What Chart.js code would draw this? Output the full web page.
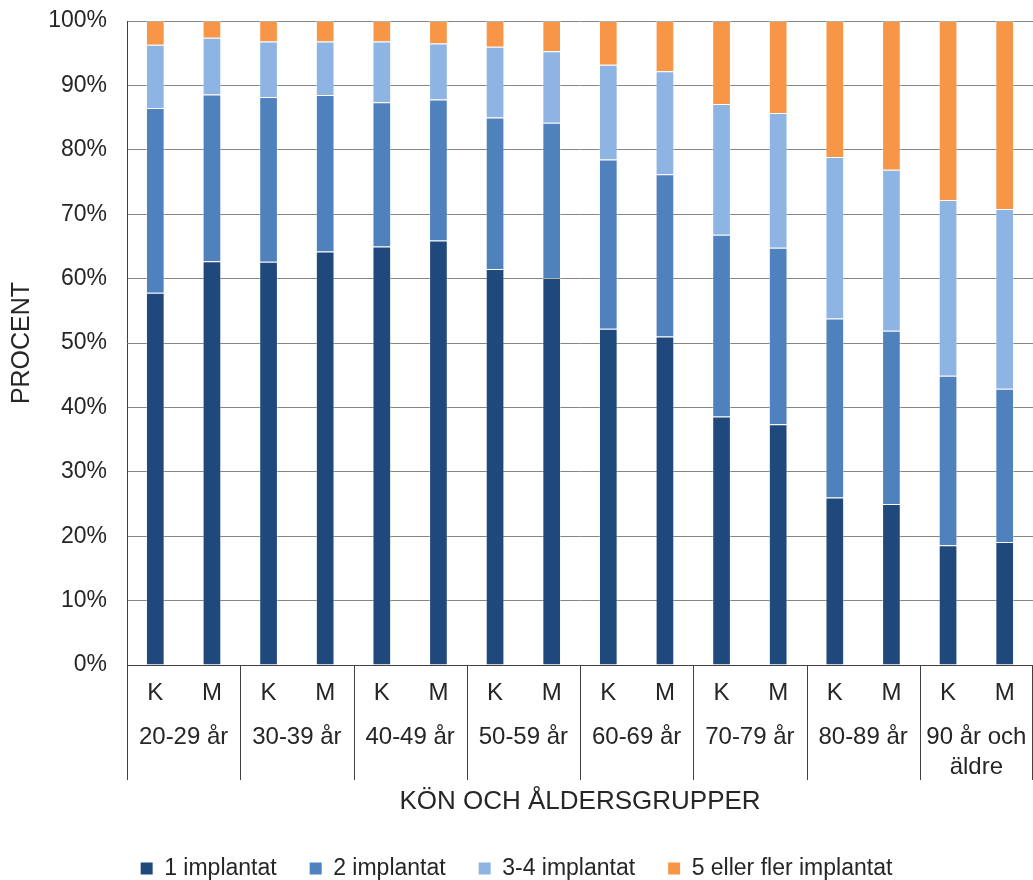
<!DOCTYPE html>
<html><head><meta charset="utf-8">
<script src="https://cdn.jsdelivr.net/npm/chart.js@4"></script>
<style>html,body{margin:0;padding:0;background:#fff}#wrap{width:1033px;height:880px}</style>
</head><body><div id="wrap"><canvas id="c" width="1033" height="880"></canvas></div>
<script>
const sexLabels = ['K','M','K','M','K','M','K','M','K','M','K','M','K','M','K','M'];
const ageGroups = ['20-29 år','30-39 år','40-49 år','50-59 år','60-69 år','70-79 år','80-89 år',['90 år och','äldre']];
const seriesNames = ['1 implantat','2 implantat','3-4 implantat','5 eller fler implantat'];
const oneImplant   = [57.8, 62.7, 62.6, 64.2, 65.0, 65.9, 61.5, 60.1, 52.2, 51.0, 38.6, 37.4, 26.0, 25.0, 18.6, 19.1];
const twoImplant   = [28.7, 25.9, 25.6, 24.3, 22.4, 21.9, 23.5, 24.1, 26.3, 25.2, 28.2, 27.4, 27.8, 26.9, 26.3, 23.8];
const threeFour    = [9.8, 8.8, 8.6, 8.3, 9.4, 8.7, 11.0, 11.1, 14.7, 16.0, 20.3, 20.9, 25.1, 25.0, 27.3, 27.9];
const fivePlus     = [3.7, 2.6, 3.2, 3.2, 3.2, 3.5, 4.0, 4.7, 6.8, 7.8, 12.9, 14.3, 21.1, 23.1, 27.8, 29.2];
const yTicks = [0,10,20,30,40,50,60,70,80,90,100];

const colors = ['#1F497D','#4F81BD','#8EB4E3','#F79646'];
const values = [oneImplant, twoImplant, threeFour, fivePlus];
const FONT = "'Liberation Sans', Arial, sans-serif";
const TXT = '#262626';

const groupAxis = {
  id: 'groupAxis',
  afterDraw(chart) {
    const x = chart.scales.x, ctx = chart.ctx, a = chart.chartArea;
    ctx.save();
    ctx.strokeStyle = '#404040'; ctx.lineWidth = 1;
    const n = ageGroups.length;
    for (let g = 0; g <= n; g++) {
      let px;
      if (g === 0) px = a.left;
      else if (g === n) px = a.right - 1;
      else px = (x.getPixelForValue(2*g-1) + x.getPixelForValue(2*g)) / 2;
      px = Math.round(px) + 0.5;
      ctx.beginPath(); ctx.moveTo(px, a.bottom); ctx.lineTo(px, a.bottom + 115); ctx.stroke();
    }
    ctx.fillStyle = TXT;
    ctx.font = '24px ' + FONT;
    ctx.textAlign = 'center'; ctx.textBaseline = 'middle';
    ageGroups.forEach((lab, g) => {
      const cx = (x.getPixelForValue(2*g) + x.getPixelForValue(2*g+1)) / 2;
      const lines = Array.isArray(lab) ? lab : [lab];
      lines.forEach((t, i) => ctx.fillText(t, cx, a.bottom + 72 + i*30));
    });
    ctx.restore();
  }
};

new Chart(document.getElementById('c'), {
  type: 'bar',
  data: {
    labels: sexLabels,
    datasets: seriesNames.map((name, i) => ({
      label: name,
      data: values[i],
      backgroundColor: colors[i],
      borderColor: 'rgba(255,255,255,0.35)',
      borderWidth: 1,
      categoryPercentage: 1,
      barPercentage: 0.33
    }))
  },
  options: {
    responsive: false,
    devicePixelRatio: 1,
    animation: false,
    layout: { padding: { top: 21, left: 0, right: 0, bottom: -10 } },
    plugins: {
      legend: {
        position: 'bottom',
        labels: {
          font: { size: 23, family: FONT },
          color: TXT,
          boxWidth: 12, boxHeight: 12,
          padding: 33,
          generateLabels: (chart) => Chart.defaults.plugins.legend.labels.generateLabels(chart).map(l => ({...l, lineWidth: 0}))
        }
      },
      tooltip: { enabled: false }
    },
    scales: {
      x: {
        stacked: true,
        grid: { display: false, drawTicks: false },
        border: { display: true, color: '#404040', width: 1 },
        ticks: { font: { size: 24, family: FONT }, color: TXT, padding: 14, maxRotation: 0, autoSkip: false },
        title: { display: true, text: 'KÖN OCH ÅLDERSGRUPPER', font: { size: 26, family: FONT }, color: TXT, padding: { top: 0, bottom: 7 } },
        afterFit: (s) => { s.height = 159; s.paddingLeft = 0; s.paddingRight = 0; }
      },
      y: {
        stacked: true,
        min: 0, max: 100,
        afterBuildTicks: (s) => { s.ticks = yTicks.map(v => ({ value: v })); },
        grid: { color: '#868686', lineWidth: 1, drawTicks: false },
        border: { display: true, color: '#404040', width: 1 },
        ticks: { font: { size: 23, family: FONT }, color: TXT, padding: 20, callback: (v) => v + '%' },
        title: { display: true, text: 'PROCENT', font: { size: 25, family: FONT }, color: TXT, padding: { top: 7, bottom: 0 } },
        afterFit: (s) => { s.width = 127; s.paddingTop = 0; s.paddingBottom = 0; }
      }
    }
  },
  plugins: [groupAxis]
});
</script>
</body></html>
